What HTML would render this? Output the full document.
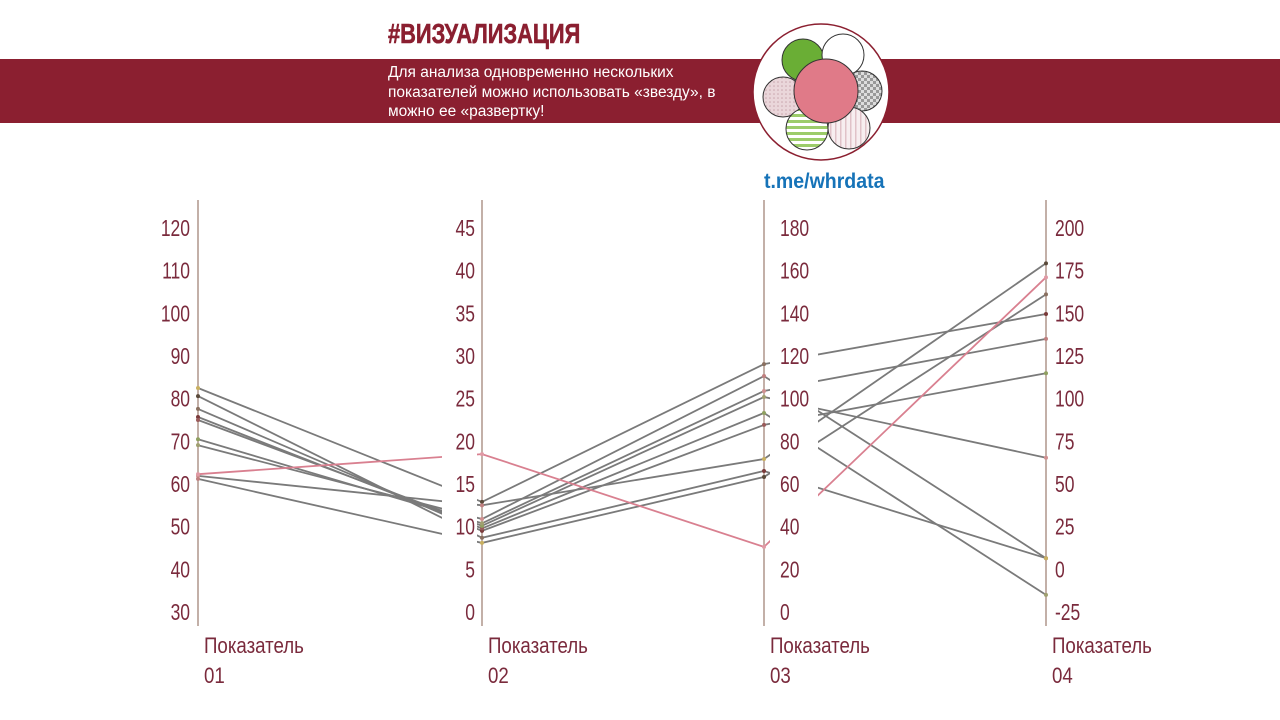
<!DOCTYPE html>
<html><head><meta charset="utf-8">
<style>
html,body{margin:0;padding:0;background:#fff;}
body{width:1280px;height:720px;overflow:hidden;position:relative;font-family:"Liberation Sans",sans-serif;}
.band{position:absolute;left:0;top:59px;width:1280px;height:64px;background:#8b1f30;}
.title{position:absolute;left:388px;top:18px;font:bold 28px "Liberation Sans",sans-serif;color:#8b1f30;transform:scaleX(0.78);transform-origin:left;-webkit-text-stroke:0.6px #8b1f30;}
.desc{position:absolute;left:388px;top:63px;color:#fff;font-size:15.5px;line-height:19.5px;transform:scaleX(1.0);transform-origin:left;}
.link{position:absolute;left:764px;top:170px;color:#1673b8;font:bold 21px "Liberation Sans",sans-serif;transform:scaleX(0.93);transform-origin:left;}
</style></head>
<body>
<div class="band"></div>
<div class="title">#ВИЗУАЛИЗАЦИЯ</div>
<div class="desc">Для анализа одновременно нескольких<br>показателей можно использовать «звезду», в<br>можно ее «развертку!</div>
<svg width="1280" height="720" style="position:absolute;left:0;top:0">
<defs>
<pattern id="chk" width="6" height="6" patternUnits="userSpaceOnUse"><rect width="6" height="6" fill="#ddd"/><rect width="3" height="3" fill="#999"/><rect x="3" y="3" width="3" height="3" fill="#999"/></pattern>
<pattern id="hs" width="6" height="6" patternUnits="userSpaceOnUse"><rect width="6" height="6" fill="#fff"/><rect width="6" height="3" fill="#9ccc6a"/></pattern>
<pattern id="vs" width="5" height="5" patternUnits="userSpaceOnUse"><rect width="5" height="5" fill="#f7eef0"/><rect width="1.5" height="5" fill="#e0c2c8"/></pattern>
<pattern id="dt" width="4" height="4" patternUnits="userSpaceOnUse"><rect width="4" height="4" fill="#ead6da"/><circle cx="2" cy="2" r="0.8" fill="#c9a6ae"/></pattern>
</defs>
<g>
<circle cx="821" cy="92" r="68" fill="#fff" stroke="#8b1f30" stroke-width="1.5"/>
<circle cx="803" cy="60" r="21" fill="#6aae35" stroke="#333"/>
<circle cx="843" cy="55" r="21" fill="#fff" stroke="#333"/>
<circle cx="862" cy="91" r="20" fill="url(#chk)" stroke="#333"/>
<circle cx="783" cy="97" r="20" fill="url(#dt)" stroke="#333"/>
<circle cx="807" cy="129" r="21" fill="url(#hs)" stroke="#333"/>
<circle cx="849" cy="128" r="21" fill="url(#vs)" stroke="#333"/>
<circle cx="826" cy="91" r="32" fill="#e07a88" stroke="#333"/>
</g>
<g id="chart"></g>
</svg>
<div class="link">t.me/whrdata</div>
<script>
const axisNames = ["Показатель 01","Показатель 02","Показатель 03","Показатель 04"];
const axisMin = [30, 0, 0, -25];
const axisMax = [120, 45, 180, 200];
const ticks1 = [120,110,100,90,80,70,60,50,40,30];
const ticks2 = [45,40,35,30,25,20,15,10,5,0];
const ticks3 = [180,160,140,120,100,80,60,40,20,0];
const ticks4 = [200,175,150,125,100,75,50,25,0,-25];
const v01 = [82.5, 80.6, 77.6, 75.7, 75.0, 70.5, 69.1, 61.9, 61.2, 62.3];
const v02 = [12.9, 8.7, 9.5, 9.8, 10.1, 10.4, 10.9, 12.5, 8.1, 18.5];
const v03 = [116.2, 66.1, 87.7, 93.3, 100.8, 103.6, 110.6, 71.7, 63.3, 30.5];
const v04 = [149.6, 6.5, 114.9, -15, 65.4, 135, 6.5, 179.3, 161.1, 171.1];
const highlight = 9;

const NS="http://www.w3.org/2000/svg";
const g=document.getElementById('chart');
const AX=[198,482,764,1046], TOP=228, BOT=612;
const allTicks=[ticks1,ticks2,ticks3,ticks4];
const vals=[v01,v02,v03,v04];
const SX=0.76;
function y(i,v){return BOT-(v-axisMin[i])/(axisMax[i]-axisMin[i])*(BOT-TOP);}
function mk(t,a,parent){const e=document.createElementNS(NS,t);for(const k in a)e.setAttribute(k,a[k]);(parent||g).appendChild(e);return e;}
for(let i=0;i<4;i++){
  const l=mk('line',{x1:AX[i],x2:AX[i],y1:200,y2:626,stroke:'#9b7b6e','stroke-width':1.2});
  
  
}
const dotCols=['#c9b060','#5a4a3a','#8a7060','#7a3a3a','#9a5a5a','#8fa060','#a0a070','#d09090','#c08080'];
for(let s=0;s<v01.length;s++){
  const pts=[0,1,2,3].map(i=>AX[i]+','+y(i,vals[i][s]).toFixed(1)).join(' ');
  const p=mk('polyline',{points:pts,fill:'none',stroke:s===highlight?'#d98090':'#7a7a7a','stroke-width':1.8});
  
  
  for(let i=0;i<4;i++){
    const c=mk('circle',{cx:AX[i],cy:y(i,vals[i][s]),r:2,fill:s===highlight?'#e09aa5':dotCols[(s+i)%dotCols.length]});
    
    
  }
}
const colX=[[152,192],[442,477],[770,818],[1050,1092]];
const labelX=[190,475,780,1055];
for(let i=0;i<4;i++){
  const r=mk('rect',{x:colX[i][0],y:212,width:colX[i][1]-colX[i][0],height:412,fill:'#fff'});
  
  
  const anchorEnd = i<2;
  const tg=mk('g',{transform:'scale('+SX+',1)'});
  allTicks[i].forEach(t=>{
    const tx=mk('text',{x:labelX[i]/SX,y:y(i,t)+8,'font-size':23,fill:'#7a2a3c','text-anchor':anchorEnd?'end':'start'},tg);
    tx.textContent=t;
    
    
  });
  const parts=axisNames[i].split(' ');
  const ag=mk('g',{transform:'scale(0.85,1)'});
  [0,1].forEach(k=>{
    const at=mk('text',{x:(AX[i]+6)/0.85,y:653+k*30,'font-size':22,fill:'#7a2a3c'},ag);
    at.textContent=parts[k];
    
    
  });
}
</script>
</body></html>
